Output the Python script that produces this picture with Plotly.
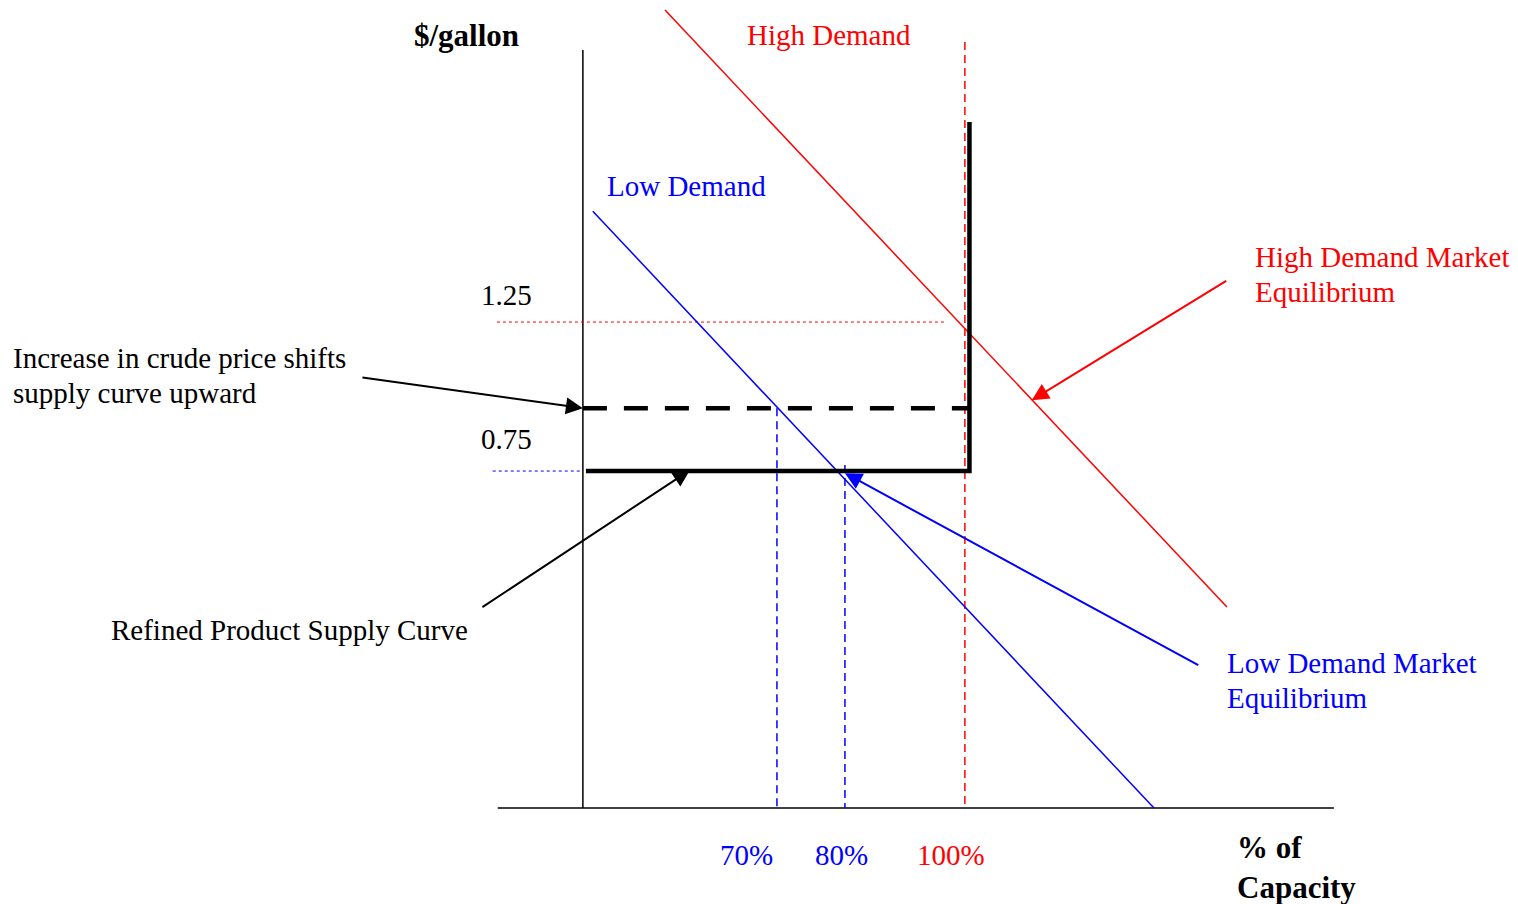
import plotly.graph_objects as go

# ---- schematic data (x: capacity units, 100 = full capacity; y: $/gallon units) ----
axis_v_x = [0, 0]
axis_v_y = [2.163, -0.381]
axis_h_x = [-22.3, 196.6]
axis_h_y = [-0.381, -0.381]

high_demand_x = [21.5, 168.6]
high_demand_y = [2.297, 0.294]
low_demand_x = [2.6, 149.5]
low_demand_y = [1.622, -0.381]

supply_x = [0.8, 101.2, 101.2]
supply_y = [0.75, 0.75, 1.921]
shifted_supply_x = [0.0, 101.2]
shifted_supply_y = [0.961, 0.961]

price_high_x = [-22.5, 94.8]
price_high_y = [1.25, 1.25]
price_low_x = [-23.6, 0.0]
price_low_y = [0.75, 0.75]

cap70_x = [50.8, 50.8]
cap70_y = [0.961, -0.381]
cap80_x = [68.6, 68.6]
cap80_y = [0.77, -0.381]
cap100_x = [100.0, 100.0]
cap100_y = [2.19, -0.381]

price_ticks = ["1.25", "0.75"]
capacity_ticks = ["70%", "80%", "100%"]

BLUE = "#0000ff"
RED = "#ff0000"
BLACK = "#000000"
FONT = "Liberation Serif"

fig = go.Figure()


def line(x, y, color, width, dash="solid"):
    fig.add_trace(go.Scatter(x=x, y=y, mode="lines", hoverinfo="skip",
                             line=dict(color=color, width=width, dash=dash)))


line(axis_v_x, axis_v_y, BLACK, 1.5)
line(axis_h_x, axis_h_y, BLACK, 1.5)
line(price_high_x, price_high_y, RED, 1, "dot")
line(price_low_x, price_low_y, BLUE, 1, "dot")
line(cap70_x, cap70_y, BLUE, 1.5, "8px,5px")
line(cap80_x, cap80_y, BLUE, 1.5, "8px,5px")
line(cap100_x, cap100_y, RED, 1.5, "8px,5px")
line(high_demand_x, high_demand_y, RED, 1.5)
line(low_demand_x, low_demand_y, BLUE, 1.5)
line(shifted_supply_x, shifted_supply_y, BLACK, 4.5, "24px,17px")
line(supply_x, supply_y, BLACK, 4.5)


def label(text, x, y, color=BLACK, size=29, anchor="left", bold=False):
    if bold:
        text = "<b>" + text + "</b>"
    fig.add_annotation(x=x, y=y, text=text, showarrow=False, xanchor=anchor,
                       yanchor="middle", borderpad=0, borderwidth=0,
                       font=dict(family=FONT, size=size, color=color))


label("$/gallon", -30.6, 2.213, anchor="center", bold=True, size=31)
label("High Demand", 42.9, 2.213, RED)
label("Low Demand", 6.3, 1.706, BLUE)
label(price_ticks[0], -13.35, 1.341, anchor="right")
label(price_ticks[1], -13.35, 0.857, anchor="right")
label("Increase in crude price shifts", -149.2, 1.129)
label("supply curve upward", -149.2, 1.012)
label("Refined Product Supply Curve", -123.6, 0.216)
label("High Demand Market", 175.9, 1.468, RED)
label("Equilibrium", 175.9, 1.351, RED)
label("Low Demand Market", 168.6, 0.106, BLUE)
label("Equilibrium", 168.6, -0.012, BLUE)
label(capacity_ticks[0], 42.7, -0.539, BLUE, anchor="center")
label(capacity_ticks[1], 67.8, -0.539, BLUE, anchor="center")
label(capacity_ticks[2], 96.3, -0.539, RED, anchor="center")
label("% of", 171.2, -0.515, bold=True, size=31)
label("Capacity", 171.2, -0.646, bold=True, size=31)


def arrow(x0, y0, x1, y1, color):
    fig.add_annotation(x=x1, y=y1, ax=x0, ay=y0, xref="x", yref="y", axref="x", ayref="y",
                       text="", showarrow=True, arrowhead=2, arrowsize=1.7,
                       arrowwidth=2, arrowcolor=color, standoff=0, startstandoff=0)


arrow(-58.1, 1.065, 0.0, 0.961, BLACK)
arrow(-26.7, 0.290, 28.0, 0.753, BLACK)
arrow(168.8, 1.391, 117.5, 0.988, RED)
arrow(161.5, 0.096, 68.6, 0.743, BLUE)

fig.update_layout(
    width=1510, height=896,
    margin=dict(l=0, r=0, t=0, b=0),
    paper_bgcolor="white", plot_bgcolor="white",
    showlegend=False,
    xaxis=dict(range=[-150.5, 244.8], visible=False, fixedrange=True),
    yaxis=dict(range=[-0.703, 2.304], visible=False, fixedrange=True),
)

fig.write_html("out.html", config={"displayModeBar": False})
